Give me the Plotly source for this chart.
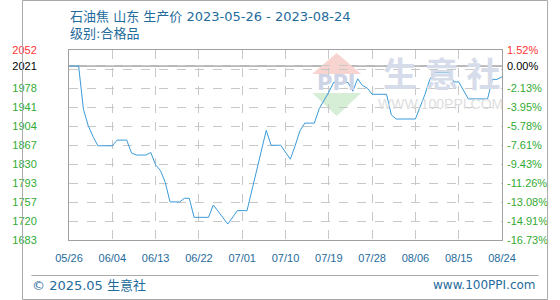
import plotly.graph_objects as go

# ---------------- data ----------------
dates = ['2023-05-26', '2023-05-28', '2023-05-29', '2023-05-30', '2023-05-31', '2023-06-01',
         '2023-06-04', '2023-06-05', '2023-06-07', '2023-06-08', '2023-06-09', '2023-06-11',
         '2023-06-12', '2023-06-13', '2023-06-14', '2023-06-15', '2023-06-16', '2023-06-18',
         '2023-06-19', '2023-06-20', '2023-06-21', '2023-06-24', '2023-06-25', '2023-06-28',
         '2023-06-30', '2023-07-02', '2023-07-06', '2023-07-07', '2023-07-09', '2023-07-11',
         '2023-07-12', '2023-07-13', '2023-07-14', '2023-07-16', '2023-07-17', '2023-07-18',
         '2023-07-19', '2023-07-20', '2023-07-23', '2023-07-24', '2023-07-25', '2023-07-26',
         '2023-07-27', '2023-07-28', '2023-07-31', '2023-08-01', '2023-08-02', '2023-08-06',
         '2023-08-07', '2023-08-08', '2023-08-09', '2023-08-10', '2023-08-13', '2023-08-14',
         '2023-08-15', '2023-08-17', '2023-08-21', '2023-08-22', '2023-08-23', '2023-08-24']
prices = [2021, 2021, 1937, 1905, 1884, 1866,
          1866, 1877, 1877, 1852, 1848, 1848,
          1853, 1829, 1818, 1795, 1757, 1757,
          1764, 1764, 1727, 1727, 1751, 1714,
          1740, 1740, 1896, 1867, 1867, 1840,
          1866, 1895, 1910, 1910, 1938, 1953,
          1970, 1989, 1989, 1972, 1996, 1983,
          1978, 1966, 1966, 1926, 1918, 1918,
          1942, 1966, 1995, 2008, 2008, 1990,
          1990, 1957, 1957, 1995, 1995, 2000]

base_price = 2021
y_min, y_max = 1683, 2052
y_grid = [1683, 1719.9, 1756.8, 1793.7, 1830.6, 1867.5, 1904.4, 1941.3, 1978.2, 2015.1, 2052]
y_grid_labels = ['1683', '1720', '1757', '1793', '1830', '1867', '1904', '1941', '1978', '', '2052']
pct_labels = ['-16.73%', '-14.91%', '-13.08%', '-11.26%', '-9.43%', '-7.61%', '-5.78%',
              '-3.95%', '-2.13%', '', '1.52%']
base_label = '2021'
base_pct_label = '0.00%'

x_ticks = ['2023-05-26', '2023-06-04', '2023-06-13', '2023-06-22', '2023-07-01', '2023-07-10',
           '2023-07-19', '2023-07-28', '2023-08-06', '2023-08-15', '2023-08-24']
x_tick_labels = ['05/26', '06/04', '06/13', '06/22', '07/01', '07/10',
                 '07/19', '07/28', '08/06', '08/15', '08/24']

title_line1 = '石油焦 山东 生产价 2023-05-26 - 2023-08-24'
title_line2 = '级别:合格品'
footer_left = '© 2025.05 生意社'
footer_right = 'www.100PPI.com'

# ---------------- styling ----------------
W, H = 560, 300
L, R, T, B = 50, 511, 50, 240
GREEN = '#33aa33'
RED = '#ff3333'
BLUE_TXT = '#1f6b9c'
LINE = '#3a9ad9'
FONT = 'Liberation Sans, Arial, sans-serif'
TFONT = 'DejaVu Sans, Noto Sans CJK SC, sans-serif'


def px(xp):
    return (xp - L) / (R - L)


def py(yp):
    return (B - yp) / (B - T)


def col(text, c):
    return f'<span style="color:{c}">{text}</span>' if text else ''


left_vals, left_text, right_text = [], [], []
for v, lab, pl in zip(y_grid, y_grid_labels, pct_labels):
    left_vals.append(v)
    c = RED if v == y_max else GREEN
    left_text.append(col(lab, c))
    right_text.append(col(pl, c))
left_vals.append(base_price)
left_text.append(col(base_label, '#000000'))
right_text.append(col(base_pct_label, '#000000'))

fig = go.Figure()
fig.add_trace(go.Scatter(x=dates, y=prices, mode='lines',
                         line=dict(color=LINE, width=1), showlegend=False,
                         hoverinfo='skip'))
fig.add_trace(go.Scatter(x=[dates[0]], y=[prices[0]], mode='markers', yaxis='y2',
                         marker=dict(opacity=0), showlegend=False, hoverinfo='skip'))

fig.update_layout(
    width=W, height=H,
    margin=dict(l=L, r=W - R, t=T, b=H - B),
    paper_bgcolor='white', plot_bgcolor='rgba(0,0,0,0)',
    xaxis=dict(type='date', range=[x_ticks[0], x_ticks[-1]],
               tickvals=x_ticks, ticktext=x_tick_labels,
               tickfont=dict(family=FONT, size=11, color=BLUE_TXT),
               showgrid=True, gridcolor='#c8c8c8', griddash='dash', gridwidth=1,
               showline=True, linecolor='#a0a0a0', linewidth=1, mirror=True,
               ticks='', ticklabelstandoff=8, zeroline=False, layer='above traces'),
    yaxis=dict(range=[y_min, y_max], tickvals=left_vals, ticktext=left_text,
               tickfont=dict(family=FONT, size=11),
               showgrid=True, gridcolor='#c8c8c8', griddash='dash', gridwidth=1,
               showline=True, linecolor='#a0a0a0', linewidth=1, mirror=True,
               ticks='', ticklabelstandoff=29, zeroline=False),
    yaxis2=dict(range=[y_min, y_max], tickvals=left_vals, ticktext=right_text,
                overlaying='y', side='right', showgrid=False, zeroline=False,
                tickfont=dict(family=FONT, size=11), ticks='', ticklabelstandoff=4,
                showline=False),
)

shapes = [
    # base price reference line
    dict(type='line', xref='paper', yref='y', x0=0, x1=1, y0=base_price, y1=base_price,
         line=dict(color='#a0a0a0', width=1.5), layer='below'),
    # footer separator
    dict(type='line', xref='paper', yref='paper', x0=px(10), x1=px(550), y0=py(275.5), y1=py(275.5),
         line=dict(color='#aaaaaa', width=1)),
    # outer frame
    dict(type='rect', xref='paper', yref='paper', x0=px(0.5), x1=px(559.5), y0=py(0.5), y1=py(299.5),
         line=dict(color='#aaaaaa', width=1)),
    # watermark logo triangles
    dict(type='path', xref='paper', yref='paper', layer='below',
         path=f'M {px(309)} {py(74)} L {px(335)} {py(53)} L {px(361)} {py(74)} Z',
         fillcolor='#f8d4d0', line=dict(width=0)),
    dict(type='path', xref='paper', yref='paper', layer='below',
         path=f'M {px(309)} {py(93)} L {px(335)} {py(116)} L {px(361)} {py(93)} Z',
         fillcolor='#d6eed6', line=dict(width=0)),
]

annotations = [
    dict(text=title_line1, xref='paper', yref='paper', x=px(49), y=py(16), xanchor='left',
         yanchor='middle', showarrow=False, font=dict(family=TFONT, size=13, color=BLUE_TXT)),
    dict(text=title_line2, xref='paper', yref='paper', x=px(49), y=py(34), xanchor='left',
         yanchor='middle', showarrow=False, font=dict(family=TFONT, size=13, color=BLUE_TXT)),
    dict(text=footer_left, xref='paper', yref='paper', x=px(9), y=py(285), xanchor='left',
         yanchor='middle', showarrow=False, font=dict(family=TFONT, size=13, color=BLUE_TXT)),
    dict(text=footer_right, xref='paper', yref='paper', x=px(549), y=py(285), xanchor='right',
         yanchor='middle', showarrow=False, font=dict(family=TFONT, size=12, color=BLUE_TXT)),
    # watermark text
    dict(text='<b>PPI</b>', xref='paper', yref='paper', x=px(335), y=py(83), xanchor='center',
         yanchor='middle', showarrow=False,
         font=dict(family='DejaVu Sans, sans-serif', size=21, color='#cdd4e6')),
    dict(text='<b>生 意 社</b>', xref='paper', yref='paper', x=px(447), y=py(72), xanchor='center',
         yanchor='middle', showarrow=False,
         font=dict(family='Noto Sans CJK SC, sans-serif', size=34, color='#d6dcea')),
    dict(text='WWW.100PPI.COM', xref='paper', yref='paper', x=px(446), y=py(104), xanchor='center',
         yanchor='middle', showarrow=False,
         font=dict(family='Liberation Sans, sans-serif', size=14, color='#dedede')),
]

fig.update_layout(shapes=shapes, annotations=annotations)
fig.write_html('out.html')
